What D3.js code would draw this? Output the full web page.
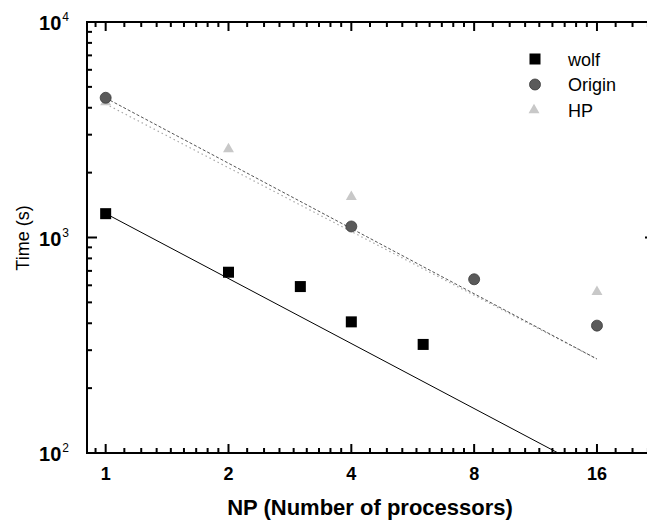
<!DOCTYPE html>
<html>
<head>
<meta charset="utf-8">
<script src="https://cdn.jsdelivr.net/npm/d3@7"></script>
<style>
  body { margin: 0; background: #fff; }
  svg { display: block; font-family: "Liberation Sans", Arial, sans-serif; }
</style>
</head>
<body>
<div id="chart"></div>
<script>
const npWolf = [1, 2, 3, 4, 6];
const timeWolf = [1290, 690, 592, 406, 319];
const npOrigin = [1, 4, 8, 16];
const timeOrigin = [4450, 1125, 640, 390];
const npHP = [1, 2, 4, 16];
const timeHP = [4250, 2575, 1546, 560];

// fitted lines, end points [NP, time]
const fitWolf = [[1, 1292], [12.85, 100]];
const fitOrigin = [[1, 4440], [16, 273]];
const fitHP = [[1, 4165], [16, 273]];

const xTickValues = [1, 2, 4, 8, 16];
const yTickExponents = [2, 3, 4];
const legendNames = ["wolf", "Origin", "HP"];

function renderChart() {
  const W = 647, H = 526;
  const left = 87, right = 655, top = 22, bottom = 453;

  const svg = d3.select("#chart").append("svg")
    .attr("width", W).attr("height", H);

  const x = d3.scaleLog().base(2).domain([0.9, 22.2]).range([left, right]);
  const y = d3.scaleLog().domain([100, 10000]).range([bottom, top]);

  svg.append("defs").append("clipPath").attr("id", "plot-clip")
    .append("rect").attr("x", left).attr("y", top)
    .attr("width", right - left).attr("height", bottom - top);

  // minor ticks: 8 evenly spaced values inside each octave / decade
  const xMinor = [];
  for (let k = -1; k <= 4; k++) {
    const base = Math.pow(2, k);
    for (let n = 1; n <= 8; n++) {
      const v = base * (1 + n / 9);
      if (v > 0.9 && v < 22.2 && !xTickValues.includes(v)) xMinor.push(v);
    }
  }
  const yMinor = [];
  [100, 1000].forEach(b => { for (let n = 2; n <= 9; n++) yMinor.push(b * n); });

  const axisG = svg.append("g")
    .attr("stroke", "#000").attr("stroke-width", 2).attr("fill", "none");

  axisG.append("rect").attr("x", left).attr("y", top)
    .attr("width", right - left).attr("height", bottom - top);

  // x ticks, bottom and top, pointing inward
  xTickValues.forEach(v => {
    axisG.append("line").attr("x1", x(v)).attr("x2", x(v)).attr("y1", bottom).attr("y2", bottom - 9);
    axisG.append("line").attr("x1", x(v)).attr("x2", x(v)).attr("y1", top).attr("y2", top + 9);
  });
  xMinor.forEach(v => {
    axisG.append("line").attr("x1", x(v)).attr("x2", x(v)).attr("y1", bottom).attr("y2", bottom - 5);
    axisG.append("line").attr("x1", x(v)).attr("x2", x(v)).attr("y1", top).attr("y2", top + 5);
  });

  // y ticks, left and right
  yTickExponents.forEach(e => {
    const v = Math.pow(10, e);
    axisG.append("line").attr("x1", left).attr("x2", left + 10).attr("y1", y(v)).attr("y2", y(v));
    axisG.append("line").attr("x1", right).attr("x2", right - 10).attr("y1", y(v)).attr("y2", y(v));
  });
  yMinor.forEach(v => {
    axisG.append("line").attr("x1", left).attr("x2", left + 5).attr("y1", y(v)).attr("y2", y(v));
    axisG.append("line").attr("x1", right).attr("x2", right - 5).attr("y1", y(v)).attr("y2", y(v));
  });

  // tick labels
  svg.append("g").selectAll("text").data(xTickValues).join("text")
    .attr("x", d => x(d)).attr("y", bottom + 27)
    .attr("text-anchor", "middle")
    .style("font-size", "18px").style("font-weight", "bold")
    .text(d => d);

  const yLab = svg.append("g").selectAll("text").data(yTickExponents).join("text")
    .attr("x", 69).attr("y", d => y(Math.pow(10, d)) + 8)
    .attr("text-anchor", "end")
    .style("font-size", "20px").style("font-weight", "bold");
  yLab.append("tspan").text("10");
  yLab.append("tspan").attr("dx", 1).attr("dy", -9)
    .style("font-size", "12px").style("font-weight", "normal").text(d => d);

  // axis titles
  svg.append("text")
    .attr("x", 370).attr("y", 515)
    .attr("text-anchor", "middle")
    .style("font-size", "22px").style("font-weight", "bold")
    .text("NP (Number of processors)");

  svg.append("text")
    .attr("transform", "translate(29,238) rotate(-90)")
    .attr("text-anchor", "middle")
    .style("font-size", "18px")
    .text("Time (s)");

  // fit lines
  const line = d3.line().x(d => x(d[0])).y(d => y(d[1]));
  const fits = svg.append("g").attr("clip-path", "url(#plot-clip)").attr("fill", "none");
  fits.append("path").datum(fitWolf).attr("d", line)
    .attr("stroke", "#000").attr("stroke-width", 1);
  fits.append("path").datum(fitHP).attr("d", line)
    .attr("stroke", "#a8a8a8").attr("stroke-width", 1.2).attr("stroke-dasharray", "1.5,3");
  fits.append("path").datum(fitOrigin).attr("d", line)
    .attr("stroke", "#555").attr("stroke-width", 1).attr("stroke-dasharray", "3,2");

  // markers
  const tri = d3.symbol().type(d3.symbolTriangle).size(52);
  svg.append("g").selectAll("path").data(d3.zip(npHP, timeHP)).join("path")
    .attr("d", tri)
    .attr("transform", d => `translate(${x(d[0])},${y(d[1])})`)
    .attr("fill", "#c8c8c8");

  svg.append("g").selectAll("circle").data(d3.zip(npOrigin, timeOrigin)).join("circle")
    .attr("cx", d => x(d[0])).attr("cy", d => y(d[1])).attr("r", 5.5)
    .attr("fill", "#5a5a5a").attr("stroke", "#3a3a3a").attr("stroke-width", 0.8);

  svg.append("g").selectAll("rect").data(d3.zip(npWolf, timeWolf)).join("rect")
    .attr("x", d => x(d[0]) - 5.5).attr("y", d => y(d[1]) - 5.5)
    .attr("width", 11).attr("height", 11)
    .attr("fill", "#000");

  // legend
  const legend = svg.append("g");
  legendNames.forEach((name, i) => {
    const cy = 59 + i * 25.5;
    if (i === 0) {
      legend.append("rect").attr("x", 529.5).attr("y", cy - 5.5).attr("width", 11).attr("height", 11).attr("fill", "#000");
    } else if (i === 1) {
      legend.append("circle").attr("cx", 535).attr("cy", cy).attr("r", 5.5)
        .attr("fill", "#5a5a5a").attr("stroke", "#3a3a3a").attr("stroke-width", 0.8);
    } else {
      legend.append("path").attr("d", tri).attr("transform", `translate(534,${cy})`).attr("fill", "#c8c8c8");
    }
    legend.append("text").attr("x", 568).attr("y", cy + 6.5)
      .style("font-size", "18px").text(name);
  });
}

renderChart();
</script>
</body>
</html>
